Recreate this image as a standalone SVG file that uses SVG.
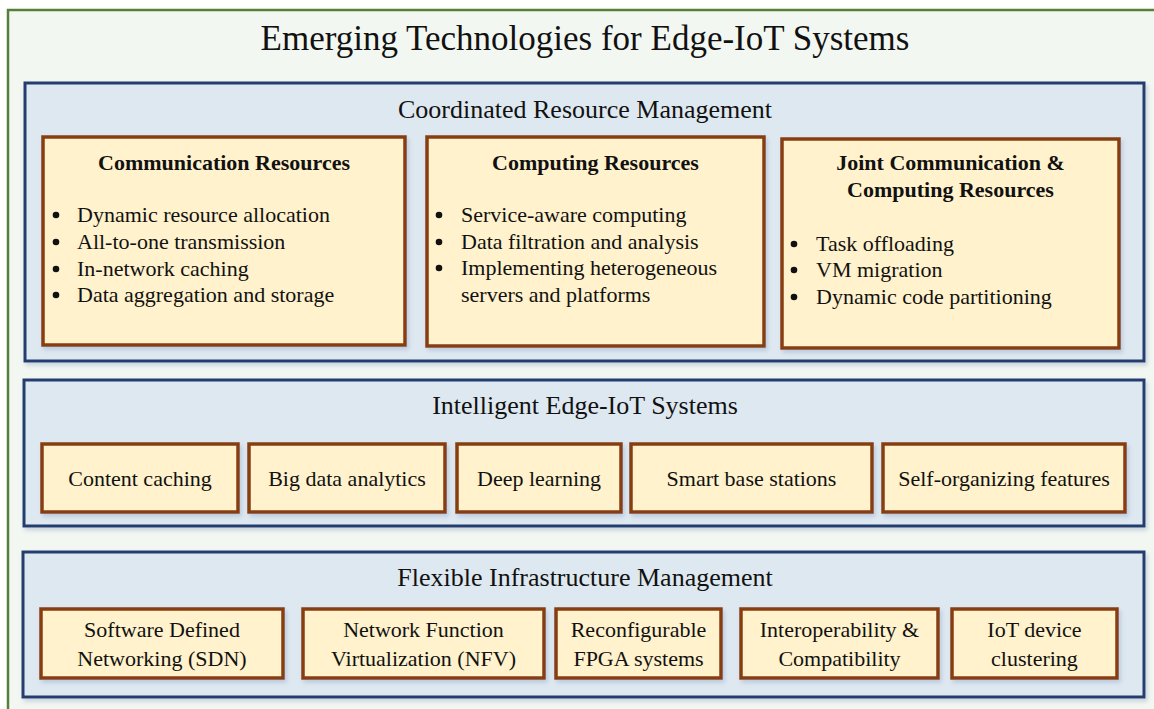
<svg xmlns="http://www.w3.org/2000/svg" width="1154" height="709" viewBox="0 0 1154 709">
<style>
text{font-family:"Liberation Serif","Times New Roman",serif;fill:#111;}
.title{font-size:35px;text-anchor:middle;}
.ltitle{font-size:26px;text-anchor:middle;}
.bt{font-size:22px;font-weight:bold;text-anchor:middle;}
.t{font-size:22px;}
.c{font-size:22px;text-anchor:middle;}
.layer{fill:#DEE8F0;stroke:#203D6E;stroke-width:3;filter:url(#sh);}
.box{fill:#FFF2CC;stroke:#873E10;stroke-width:3.5;filter:url(#sh);}
.dot{fill:#111;}
</style>
<defs>
<filter id="sh" x="-5%" y="-10%" width="110%" height="125%">
<feDropShadow dx="2" dy="3" stdDeviation="2" flood-color="#8FA6C4" flood-opacity="0.45"/>
</filter>
</defs>
<rect x="0" y="0" width="1154" height="709" fill="#FFFFFF"/>
<g id="frame">
<rect x="8" y="10" width="1160" height="710" fill="#F3F7F2" stroke="#55803A" stroke-width="2.5"/>
<text class="title" x="585" y="50">Emerging Technologies for Edge-IoT Systems</text>
</g>

<g id="layer-coordinated">
<rect class="layer" x="25" y="83" width="1119" height="278"/>
<text class="ltitle" x="585" y="118">Coordinated Resource Management</text>
</g>
<g id="node-communication">
<rect class="box" x="43" y="137" width="362" height="208"/>
<text class="bt" x="224" y="170">Communication Resources</text>
<circle class="dot" cx="56" cy="215" r="3.3"/>
<circle class="dot" cx="56" cy="242" r="3.3"/>
<circle class="dot" cx="56" cy="269" r="3.3"/>
<circle class="dot" cx="56" cy="295" r="3.3"/>
<text class="t" x="77" y="222">Dynamic resource allocation</text>
<text class="t" x="77" y="249">All-to-one transmission</text>
<text class="t" x="77" y="276">In-network caching</text>
<text class="t" x="77" y="302">Data aggregation and storage</text>
</g>
<g id="node-computing">
<rect class="box" x="427" y="137" width="337" height="209"/>
<text class="bt" x="595.5" y="170">Computing Resources</text>
<circle class="dot" cx="439" cy="215" r="3.3"/>
<circle class="dot" cx="439" cy="242" r="3.3"/>
<circle class="dot" cx="439" cy="268" r="3.3"/>
<text class="t" x="461" y="222">Service-aware computing</text>
<text class="t" x="461" y="249">Data filtration and analysis</text>
<text class="t" x="461" y="275">Implementing heterogeneous</text>
<text class="t" x="461" y="302">servers and platforms</text>
</g>
<g id="node-joint">
<rect class="box" x="782" y="139" width="337" height="209"/>
<text class="bt" x="950.5" y="170">Joint Communication &amp;</text>
<text class="bt" x="950.5" y="197">Computing Resources</text>
<circle class="dot" cx="794" cy="244" r="3.3"/>
<circle class="dot" cx="794" cy="270" r="3.3"/>
<circle class="dot" cx="794" cy="297" r="3.3"/>
<text class="t" x="816" y="251">Task offloading</text>
<text class="t" x="816" y="277">VM migration</text>
<text class="t" x="816" y="304">Dynamic code partitioning</text>
</g>

<g id="layer-intelligent">
<rect class="layer" x="24" y="380" width="1120" height="146"/>
<text class="ltitle" x="585" y="414">Intelligent Edge-IoT Systems</text>
</g>
<g id="node-content-caching">
<rect class="box" x="42" y="444" width="196" height="68"/>
<text class="c" x="140" y="486">Content caching</text>
</g>
<g id="node-big-data">
<rect class="box" x="249" y="444" width="196" height="68"/>
<text class="c" x="347" y="486">Big data analytics</text>
</g>
<g id="node-deep-learning">
<rect class="box" x="457" y="444" width="164" height="68"/>
<text class="c" x="539" y="486">Deep learning</text>
</g>
<g id="node-smart-bs">
<rect class="box" x="631" y="444" width="241" height="68"/>
<text class="c" x="751.5" y="486">Smart base stations</text>
</g>
<g id="node-self-org">
<rect class="box" x="883" y="444" width="242" height="68"/>
<text class="c" x="1004" y="486">Self-organizing features</text>
</g>

<g id="layer-flexible">
<rect class="layer" x="23" y="552" width="1121" height="145"/>
<text class="ltitle" x="585" y="586">Flexible Infrastructure Management</text>
</g>
<g id="node-sdn">
<rect class="box" x="41" y="609" width="242" height="69"/>
<text class="c" x="162" y="637">Software Defined</text>
<text class="c" x="162" y="666">Networking (SDN)</text>
</g>
<g id="node-nfv">
<rect class="box" x="303" y="609" width="241" height="69"/>
<text class="c" x="423.5" y="637">Network Function</text>
<text class="c" x="423.5" y="666">Virtualization (NFV)</text>
</g>
<g id="node-fpga">
<rect class="box" x="556" y="609" width="165" height="69"/>
<text class="c" x="638.5" y="637">Reconfigurable</text>
<text class="c" x="638.5" y="666">FPGA systems</text>
</g>
<g id="node-interop">
<rect class="box" x="741" y="609" width="197" height="69"/>
<text class="c" x="839.5" y="637">Interoperability &amp;</text>
<text class="c" x="839.5" y="666">Compatibility</text>
</g>
<g id="node-iot-clustering">
<rect class="box" x="952" y="609" width="165" height="69"/>
<text class="c" x="1034.5" y="637">IoT device</text>
<text class="c" x="1034.5" y="666">clustering</text>
</g>
<g id="connectors"></g>
</svg>
